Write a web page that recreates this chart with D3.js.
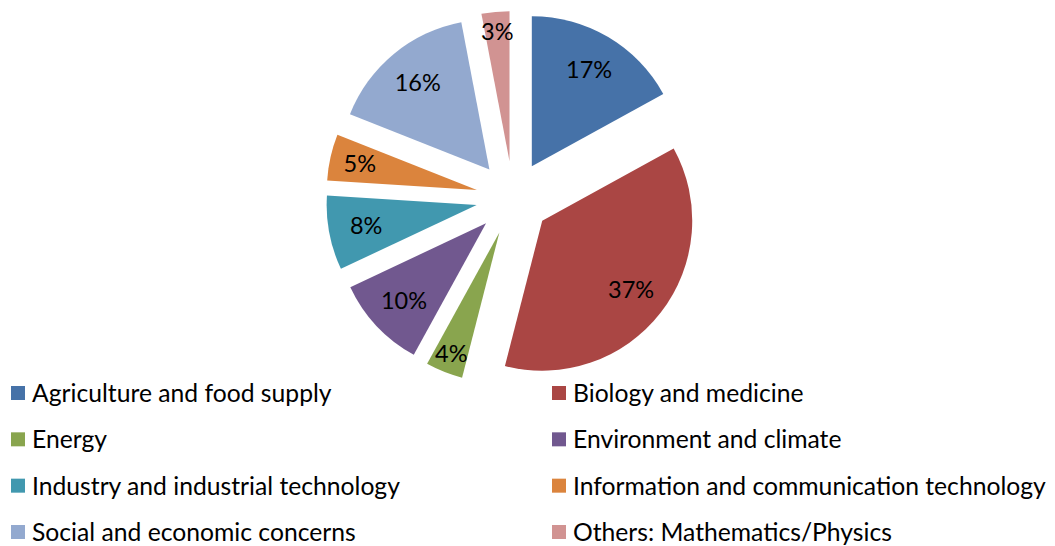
<!DOCTYPE html>
<html>
<head>
<meta charset="utf-8">
<script src="https://cdn.jsdelivr.net/npm/d3@7"></script>
<style>
  body { margin: 0; background: #fff; }
  svg { display: block; font-family: Lato, "Open Sans", sans-serif; }
</style>
</head>
<body>
<svg class="chart-svg" width="1055" height="546"></svg>
<script>
const categories = [
  "Agriculture and food supply",
  "Biology and medicine",
  "Energy",
  "Environment and climate",
  "Industry and industrial technology",
  "Information and communication technology",
  "Social and economic concerns",
  "Others: Mathematics/Physics"
];
const shares = [17, 37, 4, 10, 8, 5, 16, 3];
const colors = ["#4672A8", "#AA4644", "#89A54E", "#71588F", "#4198AF", "#DB843D", "#93A9CF", "#D19392"];

const width = 1055, height = 546;
const cx = 513, cy = 198, radius = 150, explode = 37;

const svg = d3.select(".chart-svg");

const pie = d3.pie().sort(null).value(d => d.value);
const arcs = pie(categories.map((c, i) => ({ name: c, value: shares[i] })));
const arc = d3.arc().innerRadius(0).outerRadius(radius);
const color = d3.scaleOrdinal().domain(categories).range(colors);

const g = svg.append("g").attr("transform", `translate(${cx},${cy})`);

function offset(d, dist) {
  const a = (d.startAngle + d.endAngle) / 2;
  return [Math.sin(a) * dist, -Math.cos(a) * dist];
}

const slice = g.selectAll("g.slice")
  .data(arcs)
  .join("g")
  .attr("class", "slice")
  .attr("transform", d => `translate(${offset(d, explode)})`);

slice.append("path")
  .attr("d", arc)
  .attr("fill", d => color(d.data.name));

// label distance: push out along the bisector until a label fits in narrow slices
slice.append("text")
  .attr("transform", d => {
    const half = (d.endAngle - d.startAngle) / 2;
    const fit = 19 / Math.tan(half);
    const r = Math.max(radius * 0.75, Math.min(radius * 0.87, fit));
    return `translate(${offset(d, r)})`;
  })
  .attr("text-anchor", "middle")
  .attr("dy", "0.36em")
  .attr("font-size", 23.5)
  .attr("fill", "#000")
  .text(d => d.data.value + "%");

// legend, two columns
const legend = svg.append("g");
const colX = d3.scaleOrdinal().domain([0, 1]).range([11, 552]);
const rowY = d3.scalePoint().domain(d3.range(4)).range([393, 532]);

const item = legend.selectAll("g")
  .data(categories)
  .join("g")
  .attr("transform", (d, i) => `translate(${colX(i % 2)},${rowY(Math.floor(i / 2))})`);

item.append("rect")
  .attr("x", 0)
  .attr("y", -7)
  .attr("width", 14)
  .attr("height", 14)
  .attr("fill", d => color(d));

item.append("text")
  .attr("x", 21)
  .attr("dy", "0.36em")
  .attr("font-size", 24.7)
  .attr("fill", "#000")
  .text(d => d);
</script>
</body>
</html>
